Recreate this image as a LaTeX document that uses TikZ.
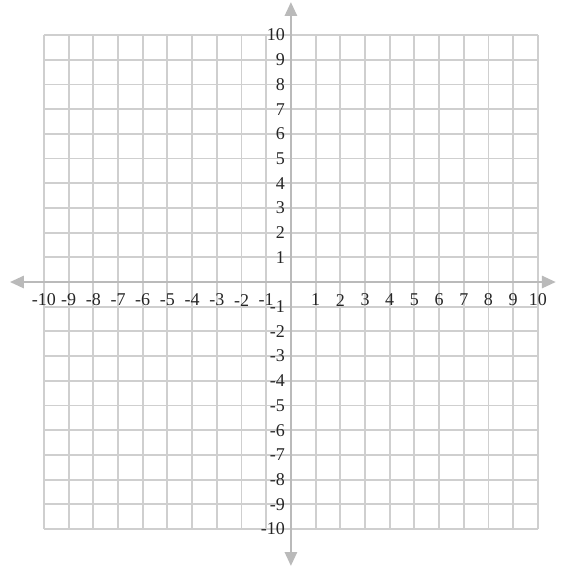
\documentclass[tikz,border=0pt]{standalone}
\usepackage{fontspec}
\setmainfont{Liberation Serif}
\usepackage{tikz}
\usetikzlibrary{arrows.meta,positioning}

\begin{document}
\begin{tikzpicture}[
        x=24.7pt, y=24.7pt,
        % Define styles for the plane
        gridline/.style={
            draw=black!19,
            line width=1.9pt
        },
        axisline/.style={
            draw=black!27,
            line width=2.8pt,
            -{Triangle[length=14pt,width=12pt]}
        },
        tick/.style={
            font=\fontsize{18}{20}\selectfont,
            text=black!85,
            inner sep=1pt
        }
    ]
    \useasboundingbox (-11.78,-11.58) rectangle (11.13,11.42);

    % Square grid
    \draw[gridline, step=24.7pt] (-10,-10) grid (10,10);

    % Axis end points
    \coordinate (west) at (-11.38,0);
    \coordinate (east) at (10.73,0);
    \coordinate (north) at (0,11.34);
    \coordinate (south) at (0,-11.5);
    \coordinate (origin) at (0,0);

    % Draw both axes with arrows at each end
    \draw[axisline] (origin) -- (east);
    \draw[axisline] (origin) -- (west);
    \draw[axisline] (origin) -- (north);
    \draw[axisline] (origin) -- (south);

    % Labels on the x axis
    \foreach \i in {-10,...,-1,1,2,...,10} {
        \node[tick] (xl\i) at (\i,-0.73) {\i};
    }

    % Labels on the y axis
    \foreach \i in {-10,...,-1,1,2,...,10} {
        \node[tick, anchor=east] (yl\i) at (-0.2,\i) {\i};
    }

\end{tikzpicture}
\end{document}
